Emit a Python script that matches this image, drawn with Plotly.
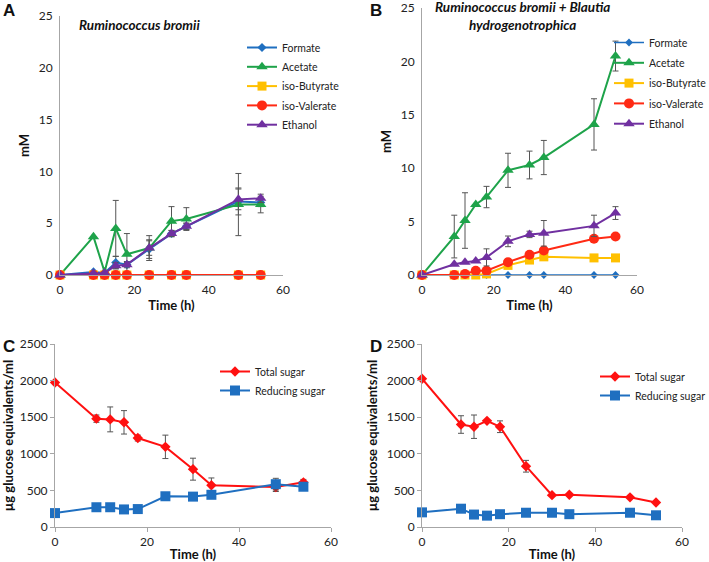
import plotly.graph_objects as go

# ---------------- data ----------------
time_h = [0, 9, 12, 15, 18, 24, 30, 34, 48, 54]

# Panel A: Ruminococcus bromii (mM)
a_formate = [0, 0.3, 0.2, 1.2, 1.0, 2.5, 4.0, 4.7, 7.1, 7.0]
a_formate_err = [0, 0.1, 0.1, 0.6, 0.3, 0.9, 0.3, 0.3, 1.3, 0.4]
a_acetate = [0, 3.7, 0.3, 4.5, 2.0, 2.6, 5.2, 5.4, 6.8, 6.8]
a_acetate_err = [0, 0, 0, 2.7, 2.0, 1.2, 1.4, 1.1, 3.0, 0.8]
a_isobutyrate = [0, 0, 0, 0, 0, 0, 0, 0, 0, 0]
a_isovalerate = [0, 0, 0, 0, 0, 0, 0, 0, 0, 0]
a_ethanol = [0, 0.15, 0.2, 0.9, 1.0, 2.6, 4.0, 4.7, 7.3, 7.4]
a_ethanol_err = [0, 0.1, 0.1, 0.3, 0.2, 0.7, 0.3, 0.3, 1.0, 0.4]

# Panel B: R. bromii + Blautia hydrogenotrophica (mM)
b_formate = [0, 0, 0, 0, 0, 0, 0, 0, 0, 0]
b_acetate = [0, 3.6, 5.1, 6.6, 7.3, 9.8, 10.3, 11.0, 14.1, 20.5]
b_acetate_err = [0, 2.0, 2.6, 0, 1.0, 1.6, 1.3, 1.6, 2.4, 1.4]
b_isobutyrate = [0, 0, 0, 0, 0.1, 0.9, 1.4, 1.7, 1.6, 1.6]
b_isovalerate = [0, 0, 0.1, 0.4, 0.4, 1.2, 1.9, 2.3, 3.4, 3.6]
b_isovalerate_err = [0, 0, 0, 0, 0, 0.3, 0, 0, 0, 0]
b_ethanol = [0, 1.0, 1.2, 1.3, 1.65, 3.15, 3.8, 3.9, 4.6, 5.8]
b_ethanol_err = [0, 0, 0, 0, 0.8, 0.5, 0.3, 1.2, 1.0, 0.6]

# Panel C: R. bromii sugars (µg glucose equivalents/ml)
c_total = [1975, 1480, 1470, 1430, 1215, 1095, 790, 570, 545, 610]
c_total_err = [0, 50, 170, 160, 40, 160, 150, 100, 60, 40]
c_reducing = [190, 270, 270, 240, 245, 420, 415, 440, 585, 550]
c_reducing_err = [0, 0, 0, 0, 0, 0, 0, 0, 80, 0]

# Panel D: co-culture sugars
d_total = [2025, 1400, 1370, 1450, 1370, 830, 435, 440, 405, 335]
d_total_err = [0, 120, 160, 0, 80, 80, 0, 0, 0, 0]
d_reducing = [200, 250, 170, 155, 175, 195, 195, 175, 195, 160]

x_ticks = [0, 20, 40, 60]
mm_ticks = [0, 5, 10, 15, 20, 25]
sugar_ticks = [0, 500, 1000, 1500, 2000, 2500]

# ---------------- styles ----------------
FONT = "Lato, 'Open Sans', sans-serif"
C_FORM = "#1f6fc0"
C_ACET = "#1ea34a"
C_IBUT = "#ffc000"
C_IVAL = "#ff2a14"
C_ETH = "#7030a0"
C_TOT = "#ff1010"
C_RED = "#1f6fc0"
ERR = "#555555"

fig = go.Figure()


def err(vals):
    return dict(type="data", array=vals, visible=True, color=ERR, thickness=1, width=3)


def add(x, y, name, color, symbol, size, xa, ya, legend, errs=None, lw=2):
    tr = go.Scatter(
        x=x, y=y, name=name, mode="lines+markers",
        line=dict(color=color, width=lw),
        marker=dict(color=color, symbol=symbol, size=size),
        xaxis=xa, yaxis=ya, legend=legend, legendgroup=legend + name, cliponaxis=False,
    )
    if errs is not None:
        tr.error_y = err(errs)
    fig.add_trace(tr)


# Panel A
add(time_h, a_formate, "Formate", C_FORM, "diamond", 7, "x", "y", "legend", a_formate_err)
add(time_h, a_acetate, "Acetate", C_ACET, "triangle-up", 10, "x", "y", "legend", a_acetate_err)
add(time_h, a_isobutyrate, "iso-Butyrate", C_IBUT, "square", 9, "x", "y", "legend")
add(time_h, a_isovalerate, "iso-Valerate", C_IVAL, "circle", 10, "x", "y", "legend")
add(time_h, a_ethanol, "Ethanol", C_ETH, "triangle-up", 10, "x", "y", "legend", a_ethanol_err)

# Panel B
add(time_h, b_formate, "Formate", C_FORM, "diamond", 6, "x2", "y2", "legend2", lw=1.5)
add(time_h, b_acetate, "Acetate", C_ACET, "triangle-up", 10, "x2", "y2", "legend2", b_acetate_err)
add(time_h, b_isobutyrate, "iso-Butyrate", C_IBUT, "square", 9, "x2", "y2", "legend2")
add(time_h, b_isovalerate, "iso-Valerate", C_IVAL, "circle", 10, "x2", "y2", "legend2", b_isovalerate_err)
add(time_h, b_ethanol, "Ethanol", C_ETH, "triangle-up", 10, "x2", "y2", "legend2", b_ethanol_err)

# Panel C
add(time_h, c_total, "Total sugar", C_TOT, "diamond", 8, "x3", "y3", "legend3", c_total_err)
add(time_h, c_reducing, "Reducing sugar", C_RED, "square", 10, "x3", "y3", "legend3", c_reducing_err)

# Panel D
add(time_h, d_total, "Total sugar", C_TOT, "diamond", 8, "x4", "y4", "legend4", d_total_err)
add(time_h, d_reducing, "Reducing sugar", C_RED, "square", 10, "x4", "y4", "legend4")

W, H = 709, 562


def px(xp):
    return xp / W


def py(yp):
    return (H - yp) / H


axis_common = dict(
    showgrid=False, zeroline=False, showline=True, linecolor="#a6a6a6", linewidth=1,
    tickfont=dict(family=FONT, size=12, color="#222"), automargin=False,
)

title_font = dict(family=FONT, size=13, color="#111")


def xaxis(dom, anchor, tickcolor, standoff):
    return dict(axis_common, domain=dom, anchor=anchor, range=[0, 60], tickvals=x_ticks,
                ticks="outside", ticklen=4, tickcolor=tickcolor,
                title=dict(text="<b>Time (h)</b>", font=title_font, standoff=standoff))


def yaxis(dom, anchor, rng, tv, title, tickcolor):
    return dict(axis_common, domain=dom, anchor=anchor, range=rng, tickvals=tv,
                ticks="outside", ticklen=4, tickcolor=tickcolor,
                title=dict(text=title, font=title_font, standoff=6))


HIDDEN = "rgba(0,0,0,0)"
TICK = "#a6a6a6"

fig.update_layout(
    width=W, height=H, margin=dict(l=0, r=0, t=0, b=0, autoexpand=False),
    paper_bgcolor="white", plot_bgcolor="white",
    font=dict(family=FONT, size=12, color="#222"),
    xaxis=xaxis([px(60), px(283)], "y", HIDDEN, 4),
    yaxis=yaxis([py(275), py(16)], "x", [0, 25], mm_ticks, "<b>mM</b>", HIDDEN),
    xaxis2=xaxis([px(422), px(637)], "y2", HIDDEN, 4),
    yaxis2=yaxis([py(275), py(8)], "x2", [0, 25], mm_ticks, "<b>mM</b>", HIDDEN),
    xaxis3=xaxis([px(55), px(331)], "y3", TICK, 2),
    yaxis3=yaxis([py(527), py(344)], "x3", [0, 2500], sugar_ticks,
                 "<b>µg glucose equivalents/ml</b>", TICK),
    xaxis4=xaxis([px(422), px(682)], "y4", TICK, 2),
    yaxis4=yaxis([py(527), py(344)], "x4", [0, 2500], sugar_ticks,
                 "<b>µg glucose equivalents/ml</b>", TICK),
    showlegend=True,
)

leg_common = dict(bgcolor="rgba(0,0,0,0)", font=dict(family=FONT, size=10.5, color="#222"),
                  xanchor="left", yanchor="top", itemwidth=30, tracegroupgap=0)
fig.update_layout(
    legend=dict(leg_common, x=px(242), y=py(33), tracegroupgap=0.3),
    legend2=dict(leg_common, x=px(609), y=py(28), tracegroupgap=1.3),
    legend3=dict(leg_common, x=px(215), y=py(357)),
    legend4=dict(leg_common, x=px(595), y=py(362)),
)

# Panel titles and letters
fig.add_annotation(x=px(139), y=py(25), xref="paper", yref="paper", showarrow=False,
                   xanchor="center", yanchor="middle",
                   text="<b><i>Ruminococcus bromii</i></b>", font=dict(family=FONT, size=13.5, color="#111"))
fig.add_annotation(x=px(522), y=py(16), xref="paper", yref="paper", showarrow=False,
                   xanchor="center", yanchor="middle",
                   text="<b><i>Ruminococcus bromii + Blautia<br>hydrogenotrophica</i></b>",
                   font=dict(family=FONT, size=13.5, color="#111"), align="center")
for lab, xx, yy in [("A", 9, 10), ("B", 376, 10), ("C", 9, 346), ("D", 376, 346)]:
    fig.add_annotation(x=px(xx), y=py(yy), xref="paper", yref="paper", showarrow=False,
                       xanchor="center", yanchor="middle",
                       text="<b>%s</b>" % lab, font=dict(family="Liberation Sans, Arial", size=17, color="#111"))

fig.write_html("out.html", post_script="document.body.style.margin='0';",
               config={"displayModeBar": False})
